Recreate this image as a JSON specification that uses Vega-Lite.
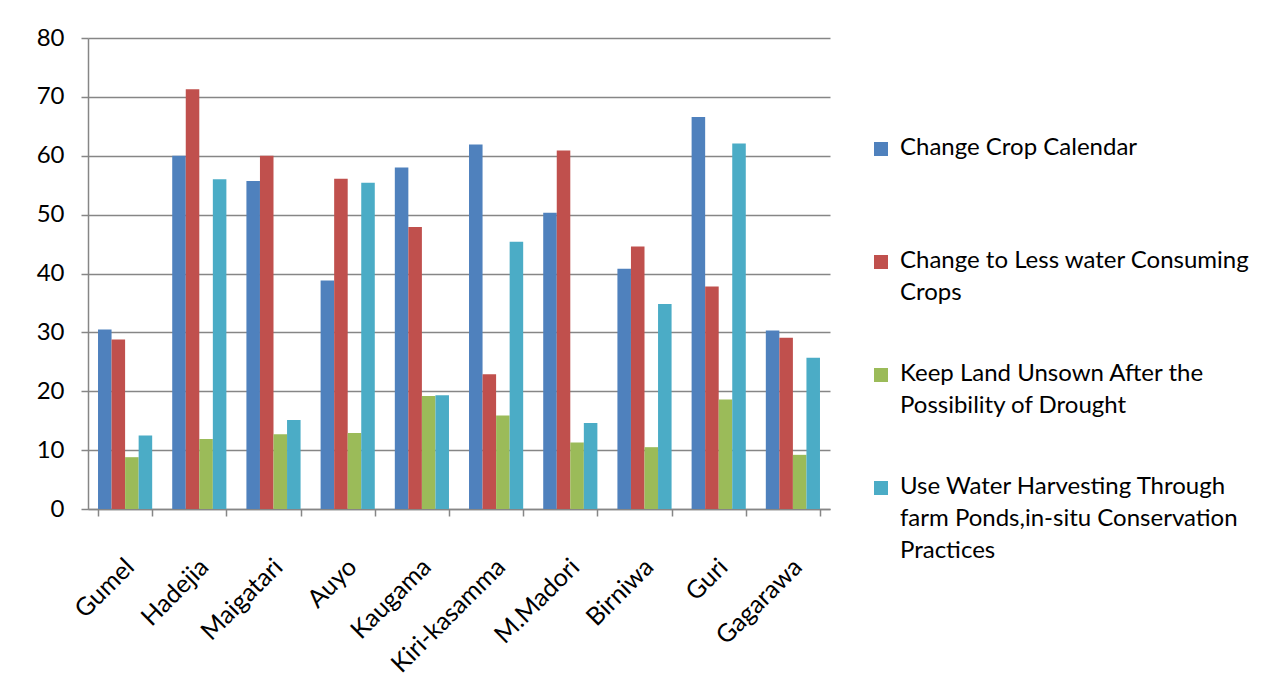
{
  "$schema": "https://vega.github.io/schema/vega-lite/v6.json",
  "width": 742,
  "height": 471,
  "autosize": "none",
  "padding": {"left": 88, "top": 38, "right": 458, "bottom": 175},
  "background": "white",
  "config": {
    "font": "Lato",
    "view": {"stroke": null},
    "axis": {"labelFont": "Lato", "labelColor": "#000000", "domainColor": "#868686", "tickColor": "#868686", "gridColor": "#868686", "domainWidth": 1.5, "tickWidth": 1.5, "gridWidth": 1.5}
  },
  "data": {
    "values": [
      {"site": "Gumel", "s": "Change  Crop Calendar", "v": 30.5},
      {"site": "Gumel", "s": "Change to Less water Consuming Crops", "v": 28.8},
      {"site": "Gumel", "s": "Keep Land Unsown After the Possibility of Drought", "v": 8.8},
      {"site": "Gumel", "s": "Use Water Harvesting Through farm Ponds,in-situ Conservation Practices", "v": 12.5},
      {"site": "Hadejia", "s": "Change  Crop Calendar", "v": 60.0},
      {"site": "Hadejia", "s": "Change to Less water Consuming Crops", "v": 71.3},
      {"site": "Hadejia", "s": "Keep Land Unsown After the Possibility of Drought", "v": 11.9},
      {"site": "Hadejia", "s": "Use Water Harvesting Through farm Ponds,in-situ Conservation Practices", "v": 56.0},
      {"site": "Maigatari", "s": "Change  Crop Calendar", "v": 55.7},
      {"site": "Maigatari", "s": "Change to Less water Consuming Crops", "v": 60.0},
      {"site": "Maigatari", "s": "Keep Land Unsown After the Possibility of Drought", "v": 12.7},
      {"site": "Maigatari", "s": "Use Water Harvesting Through farm Ponds,in-situ Conservation Practices", "v": 15.1},
      {"site": "Auyo", "s": "Change  Crop Calendar", "v": 38.8},
      {"site": "Auyo", "s": "Change to Less water Consuming Crops", "v": 56.1},
      {"site": "Auyo", "s": "Keep Land Unsown After the Possibility of Drought", "v": 12.9},
      {"site": "Auyo", "s": "Use Water Harvesting Through farm Ponds,in-situ Conservation Practices", "v": 55.4},
      {"site": "Kaugama", "s": "Change  Crop Calendar", "v": 58.0},
      {"site": "Kaugama", "s": "Change to Less water Consuming Crops", "v": 47.9},
      {"site": "Kaugama", "s": "Keep Land Unsown After the Possibility of Drought", "v": 19.2},
      {"site": "Kaugama", "s": "Use Water Harvesting Through farm Ponds,in-situ Conservation Practices", "v": 19.3},
      {"site": "Kiri-kasamma", "s": "Change  Crop Calendar", "v": 61.9},
      {"site": "Kiri-kasamma", "s": "Change to Less water Consuming Crops", "v": 22.9},
      {"site": "Kiri-kasamma", "s": "Keep Land Unsown After the Possibility of Drought", "v": 15.9},
      {"site": "Kiri-kasamma", "s": "Use Water Harvesting Through farm Ponds,in-situ Conservation Practices", "v": 45.4},
      {"site": "M.Madori", "s": "Change  Crop Calendar", "v": 50.3},
      {"site": "M.Madori", "s": "Change to Less water Consuming Crops", "v": 60.9},
      {"site": "M.Madori", "s": "Keep Land Unsown After the Possibility of Drought", "v": 11.3},
      {"site": "M.Madori", "s": "Use Water Harvesting Through farm Ponds,in-situ Conservation Practices", "v": 14.6},
      {"site": "Birniwa", "s": "Change  Crop Calendar", "v": 40.8},
      {"site": "Birniwa", "s": "Change to Less water Consuming Crops", "v": 44.6},
      {"site": "Birniwa", "s": "Keep Land Unsown After the Possibility of Drought", "v": 10.5},
      {"site": "Birniwa", "s": "Use Water Harvesting Through farm Ponds,in-situ Conservation Practices", "v": 34.8},
      {"site": "Guri", "s": "Change  Crop Calendar", "v": 66.6},
      {"site": "Guri", "s": "Change to Less water Consuming Crops", "v": 37.8},
      {"site": "Guri", "s": "Keep Land Unsown After the Possibility of Drought", "v": 18.6},
      {"site": "Guri", "s": "Use Water Harvesting Through farm Ponds,in-situ Conservation Practices", "v": 62.1},
      {"site": "Gagarawa", "s": "Change  Crop Calendar", "v": 30.3},
      {"site": "Gagarawa", "s": "Change to Less water Consuming Crops", "v": 29.1},
      {"site": "Gagarawa", "s": "Keep Land Unsown After the Possibility of Drought", "v": 9.2},
      {"site": "Gagarawa", "s": "Use Water Harvesting Through farm Ponds,in-situ Conservation Practices", "v": 25.7}
    ]
  },
  "mark": {"type": "bar"},
  "encoding": {
    "x": {
      "field": "site", "type": "nominal", "sort": null, "title": null,
      "scale": {"paddingInner": 0.27, "paddingOuter": 0.135},
      "axis": {"labelAngle": -45, "labelAlign": "right", "labelBaseline": "top", "labelFontSize": 25, "labelPadding": 38, "labelOffset": -4, "tickBand": "extent", "tickSize": 7, "grid": false}
    },
    "y": {
      "field": "v", "type": "quantitative", "title": null,
      "scale": {"domain": [0, 80], "nice": false},
      "axis": {"values": [0, 10, 20, 30, 40, 50, 60, 70, 80], "labelFontSize": 24, "labelPadding": 17, "tickSize": 7, "grid": true}
    },
    "xOffset": {"field": "s", "type": "nominal", "sort": null},
    "color": {
      "field": "s", "type": "nominal", "sort": null,
      "scale": {
        "domain": ["Change  Crop Calendar", "Change to Less water Consuming Crops", "Keep Land Unsown After the Possibility of Drought", "Use Water Harvesting Through farm Ponds,in-situ Conservation Practices"],
        "range": ["#4F81BD", "#C0504D", "#9BBB59", "#4BACC6"]
      },
      "legend": {
        "title": null,
        "orient": "none",
        "legendX": 781,
        "legendY": 99,
        "symbolType": "square",
        "symbolSize": 196,
        "symbolStrokeWidth": 0,
        "labelFontSize": 24,
        "labelFont": "Lato",
        "labelColor": "#000000",
        "labelLimit": 0,
        "labelOffset": 7,
        "labelBaseline": "top",
        "rowPadding": 25,
        "labelExpr": "datum.label == 'Change  Crop Calendar' ? [' Change  Crop Calendar', '', ''] : datum.label == 'Change to Less water Consuming Crops' ? [' Change to Less water Consuming', 'Crops', ''] : datum.label == 'Keep Land Unsown After the Possibility of Drought' ? [' Keep Land Unsown After the', 'Possibility of Drought', ''] : [' Use Water Harvesting Through', 'farm Ponds,in-situ Conservation', 'Practices']",
        "encode": {"labels": {"update": {"lineHeight": {"value": 32}, "dy": {"value": -13}}}}
      }
    }
  }
}
